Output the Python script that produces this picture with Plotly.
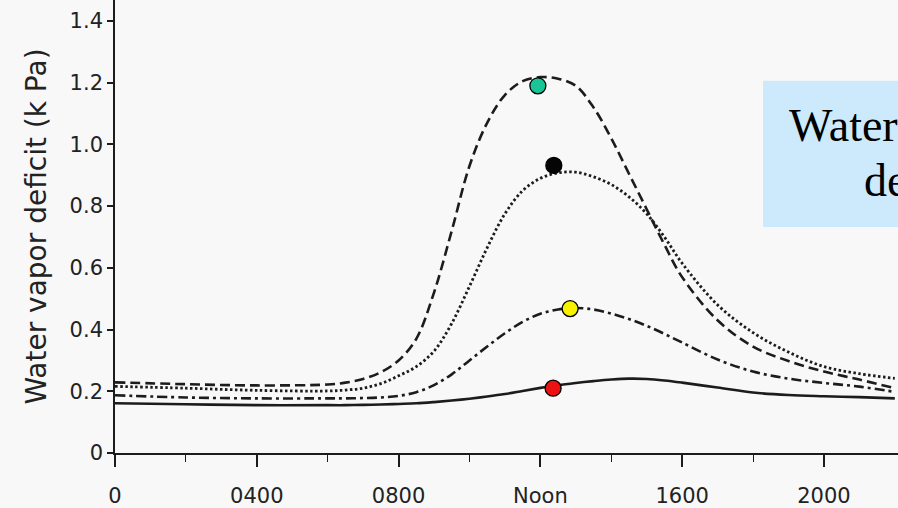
import plotly.graph_objects as go

# Time of day (hours)
hours = [0, 2, 4, 6, 6.5, 7, 7.5, 8, 8.5, 9, 9.5, 10, 10.5, 11, 11.5, 12, 12.5, 13, 13.5,
         14, 14.5, 15, 15.5, 16, 17, 18, 19, 20, 21, 22]

# Water vapor deficit (kPa) for the four curves
dashed = [0.229, 0.223, 0.219, 0.222, 0.228, 0.24, 0.262, 0.30, 0.37, 0.52, 0.72, 0.93,
          1.07, 1.16, 1.205, 1.218, 1.213, 1.19, 1.12, 1.02, 0.905, 0.79, 0.675, 0.57,
          0.43, 0.345, 0.298, 0.264, 0.238, 0.21]
dotted = [0.216, 0.21, 0.203, 0.201, 0.204, 0.21, 0.225, 0.25, 0.28, 0.33, 0.42, 0.54,
          0.665, 0.775, 0.85, 0.89, 0.908, 0.91, 0.895, 0.87, 0.83, 0.775, 0.70, 0.615,
          0.48, 0.39, 0.327, 0.28, 0.257, 0.242]
dashdot = [0.187, 0.18, 0.177, 0.177, 0.177, 0.178, 0.18, 0.185, 0.197, 0.22, 0.255, 0.30,
           0.345, 0.388, 0.425, 0.451, 0.465, 0.47, 0.465, 0.452, 0.434, 0.412, 0.386,
           0.358, 0.303, 0.264, 0.241, 0.227, 0.215, 0.198]
solid = [0.161, 0.158, 0.155, 0.155, 0.155, 0.156, 0.157, 0.159, 0.161, 0.165, 0.17, 0.176,
         0.183, 0.191, 0.201, 0.211, 0.22, 0.227, 0.233, 0.238, 0.241, 0.24, 0.235, 0.228,
         0.212, 0.196, 0.188, 0.184, 0.181, 0.177]

# Highlight markers
marker_hours = [11.93, 12.38, 12.84, 12.36]
marker_values = [1.19, 0.932, 0.468, 0.21]
marker_colors = ["#19c497", "#050505", "#f7f200", "#ee1111"]

x_tickvals = [0, 4, 8, 12, 16, 20]
x_ticktext = ["0", "0400", "0800", "Noon", "1600", "2000"]
x_minor = [2, 6, 10, 14, 18]
y_tickvals = [0, 0.2, 0.4, 0.6, 0.8, 1.0, 1.2, 1.4]
y_ticktext = ["0", "0.2", "0.4", "0.6", "0.8", "1.0", "1.2", "1.4"]

ink = "#1c1c1c"
fig = go.Figure()
styles = [
    (dashed, "10px,5px", 2.6),
    (dotted, "2.5px,2.5px", 2.8),
    (dashdot, "10px,4px,3px,4px", 2.6),
    (solid, "solid", 2.6),
]
for vals, dash, w in styles:
    fig.add_trace(go.Scatter(x=hours, y=vals, mode="lines",
                             line=dict(color=ink, width=w, dash=dash, shape="spline", smoothing=1.0),
                             showlegend=False, hoverinfo="skip"))

for h, v, c in zip(marker_hours, marker_values, marker_colors):
    fig.add_trace(go.Scatter(x=[h], y=[v], mode="markers",
                             marker=dict(size=16, color=c, line=dict(color="#000", width=1.3)),
                             showlegend=False))

bg = "#f8f8f8"
fig.update_layout(
    width=898, height=508,
    margin=dict(l=115, r=0, t=0, b=53),
    paper_bgcolor=bg, plot_bgcolor=bg,
    font=dict(family="DejaVu Sans", color="#222"),
    xaxis=dict(range=[0, 22.09], showgrid=False, zeroline=False,
               showline=True, linecolor=ink, linewidth=1.6,
               tickvals=x_tickvals, ticktext=x_ticktext,
               ticks="outside", ticklen=12, tickwidth=1.5, tickcolor=ink,
               tickfont=dict(size=21, family="DejaVu Sans", color="#222"),
               ticklabelstandoff=11,
               minor=dict(tickvals=x_minor, ticks="outside", ticklen=7, tickwidth=1.3, tickcolor=ink)),
    yaxis=dict(range=[0, 1.468], showgrid=False, zeroline=False,
               showline=True, linecolor=ink, linewidth=1.6,
               tickvals=y_tickvals, ticktext=y_ticktext,
               ticks="outside", ticklen=6, tickwidth=1.5, tickcolor=ink,
               tickfont=dict(size=21, family="DejaVu Sans", color="#222"),
               title=dict(text="Water vapor deficit (k Pa)",
                          font=dict(size=28, family="DejaVu Sans", color="#222"),
                          standoff=15)),
    shapes=[dict(type="rect", xref="paper", yref="paper",
                 x0=0.8276, x1=1.05, y0=0.499, y1=0.822,
                 fillcolor="#cdeafc", line=dict(width=0), layer="above")],
    annotations=[
        dict(text="Water vapor", xref="paper", yref="paper", x=0.858, y=0.723,
             xanchor="left", yanchor="middle", showarrow=False,
             font=dict(family="Liberation Serif", size=46, color="#000")),
        dict(text="deficit", xref="paper", yref="paper", x=0.954, y=0.602,
             xanchor="left", yanchor="middle", showarrow=False,
             font=dict(family="Liberation Serif", size=46, color="#000")),
    ],
)

fig.write_html("out.html")
